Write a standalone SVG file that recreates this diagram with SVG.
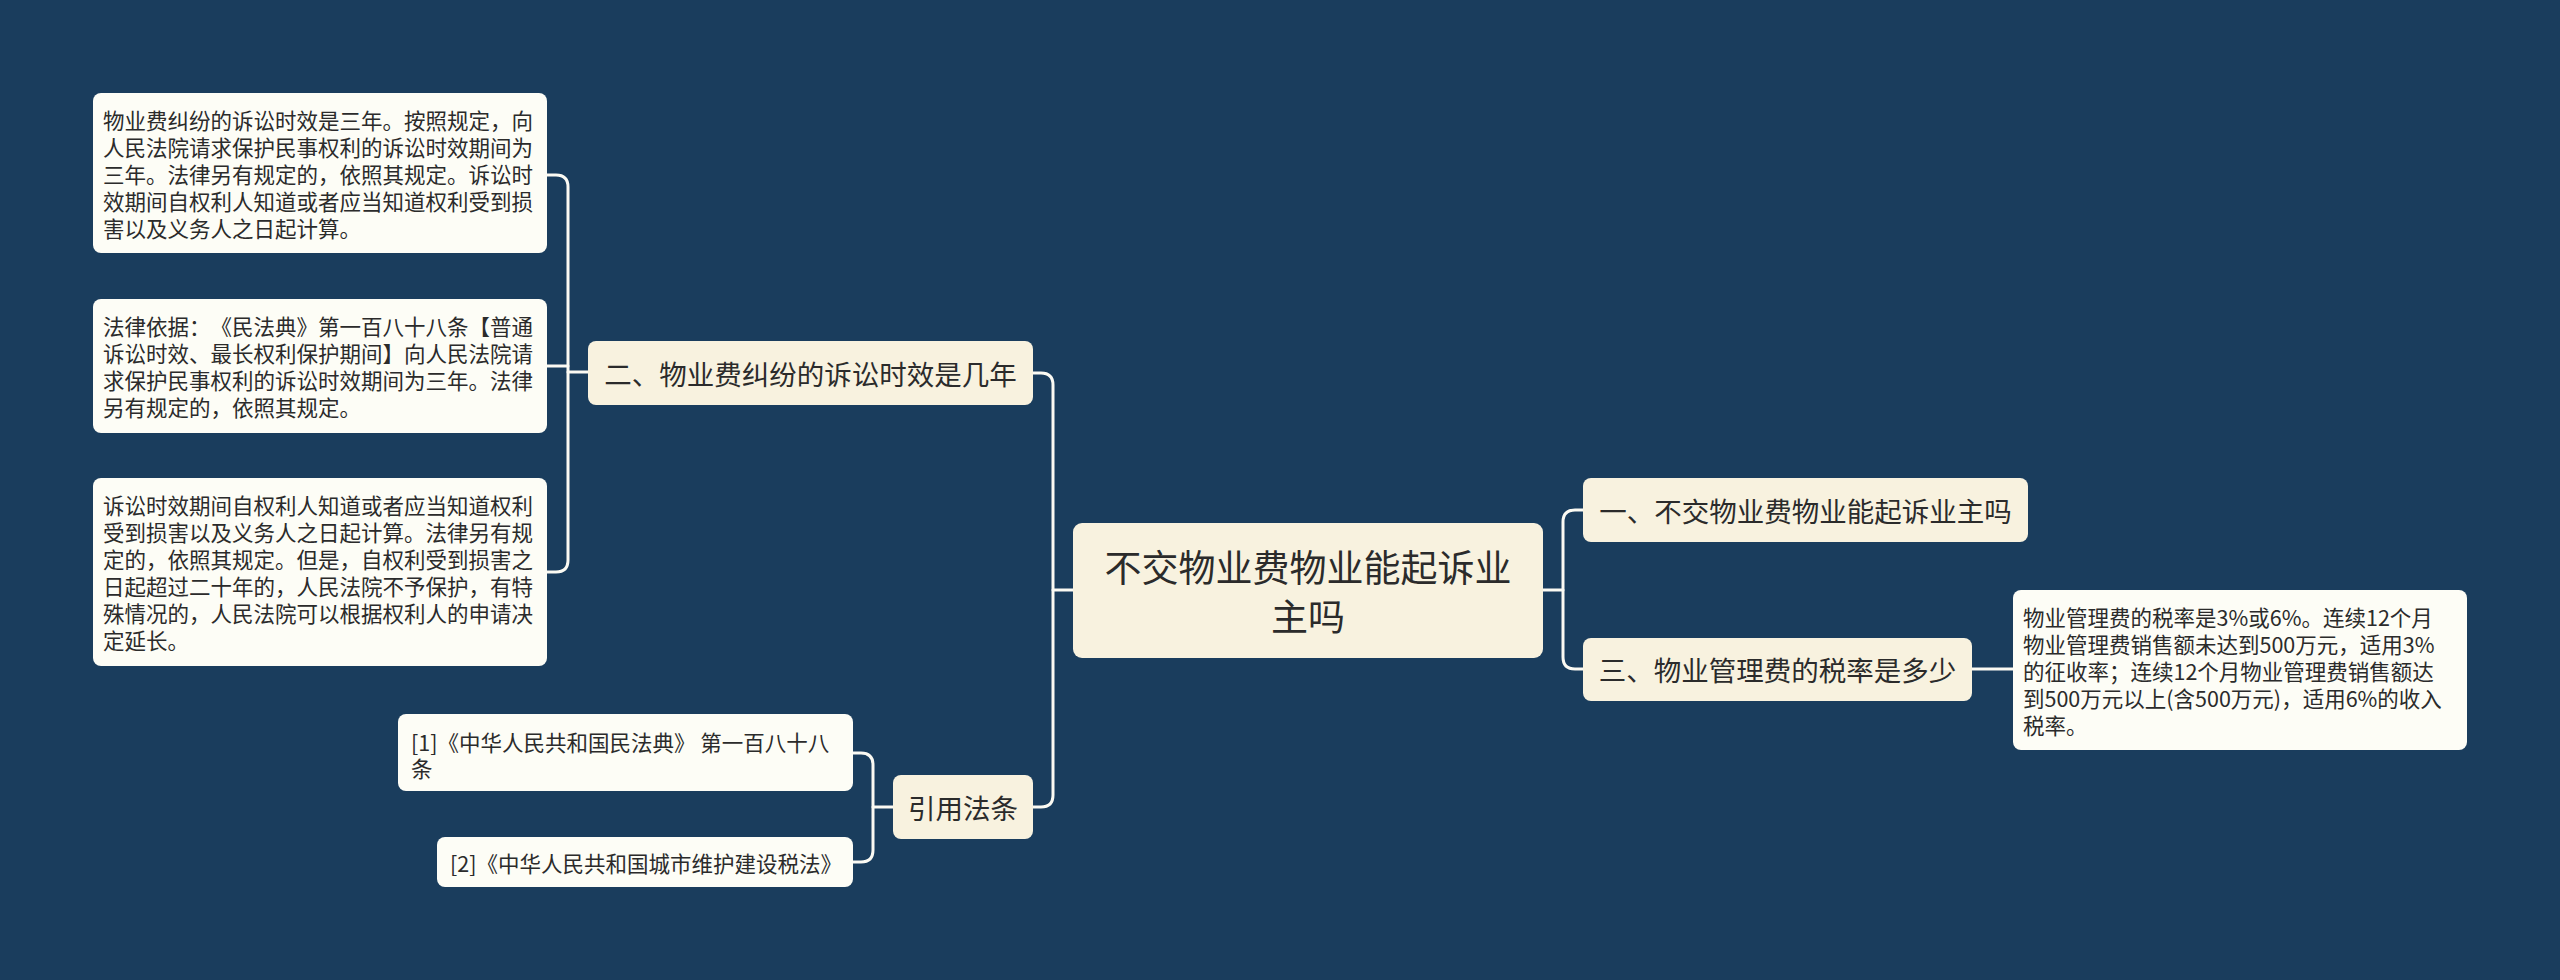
<svg xmlns="http://www.w3.org/2000/svg" width="2560" height="980" viewBox="0 0 2560 980">
<style>
.t{font-family:"Noto Sans CJK SC","Noto Sans",sans-serif;fill:#2b2b2b;dominant-baseline:central;text-spacing-trim:space-all}
.main{fill:#f8f2df}
.leaf{fill:#fdfdf6}
.c{fill:none;stroke:#fbfaf3;stroke-width:3;stroke-linecap:round;stroke-linejoin:round}
.s{font-size:21.5px}
.m{font-size:27.5px;text-anchor:middle}
.r{font-size:37px;text-anchor:middle}
</style>
<rect width="2560" height="980" fill="#1a3d5d"/>
<g id="connectors">
<path class="c" d="M1073,590 H1053"/>
<path class="c" d="M1033,373 H1041 Q1053,373 1053,385 V795 Q1053,807 1041,807 H1033"/>
<path class="c" d="M588,372 H568"/>
<path class="c" d="M547,175 H556 Q568,175 568,187 V560 Q568,572 556,572 H547"/>
<path class="c" d="M547,366 H568"/>
<path class="c" d="M1543,590 H1563"/>
<path class="c" d="M1583,510 H1575 Q1563,510 1563,522 V657 Q1563,669 1575,669 H1583"/>
<path class="c" d="M1972,669 H2013"/>
<path class="c" d="M893,807 H873"/>
<path class="c" d="M853,753 H861 Q873,753 873,765 V850 Q873,862 861,862 H853"/>
</g>
<g id="root">
<rect class="main" x="1073" y="523" width="470" height="135" rx="9"/>
<text class="t r" x="1308" y="566">不交物业费物业能起诉业</text>
<text class="t r" x="1308" y="615">主吗</text>
</g>
<g id="n2">
<rect class="main" x="588" y="341" width="445" height="64" rx="8"/>
<text class="t m" x="810.5" y="373">二、物业费纠纷的诉讼时效是几年</text>
</g>
<g id="n1">
<rect class="main" x="1583" y="478" width="445" height="64" rx="8"/>
<text class="t m" x="1805.5" y="510">一、不交物业费物业能起诉业主吗</text>
</g>
<g id="n3">
<rect class="main" x="1583" y="638" width="389" height="63" rx="8"/>
<text class="t m" x="1777.5" y="669">三、物业管理费的税率是多少</text>
</g>
<g id="nref">
<rect class="main" x="893" y="775" width="140" height="64" rx="8"/>
<text class="t m" x="963" y="807">引用法条</text>
</g>
<g id="leaf1">
<rect class="leaf" x="93" y="93" width="454" height="160" rx="8"/>
<text class="t s" x="103"><tspan x="103" y="119">物业费纠纷的诉讼时效是三年。按照规定，向</tspan><tspan x="103" y="146">人民法院请求保护民事权利的诉讼时效期间为</tspan><tspan x="103" y="173">三年。法律另有规定的，依照其规定。诉讼时</tspan><tspan x="103" y="200">效期间自权利人知道或者应当知道权利受到损</tspan><tspan x="103" y="227">害以及义务人之日起计算。</tspan></text>
</g>
<g id="leaf2">
<rect class="leaf" x="93" y="299" width="454" height="134" rx="8"/>
<text class="t s" x="103"><tspan x="103" y="325">法律依据：《民法典》第一百八十八条【普通</tspan><tspan x="103" y="352">诉讼时效、最长权利保护期间】向人民法院请</tspan><tspan x="103" y="379">求保护民事权利的诉讼时效期间为三年。法律</tspan><tspan x="103" y="406">另有规定的，依照其规定。</tspan></text>
</g>
<g id="leaf3">
<rect class="leaf" x="93" y="478" width="454" height="188" rx="8"/>
<text class="t s" x="103"><tspan x="103" y="504">诉讼时效期间自权利人知道或者应当知道权利</tspan><tspan x="103" y="531">受到损害以及义务人之日起计算。法律另有规</tspan><tspan x="103" y="558">定的，依照其规定。但是，自权利受到损害之</tspan><tspan x="103" y="585">日起超过二十年的，人民法院不予保护，有特</tspan><tspan x="103" y="612">殊情况的，人民法院可以根据权利人的申请决</tspan><tspan x="103" y="639">定延长。</tspan></text>
</g>
<g id="leaf4">
<rect class="leaf" x="2013" y="590" width="454" height="160" rx="8"/>
<text class="t s" x="2023"><tspan x="2023" y="616">物业管理费的税率是3%或6%。连续12个月</tspan><tspan x="2023" y="643">物业管理费销售额未达到500万元，适用3%</tspan><tspan x="2023" y="670">的征收率；连续12个月物业管理费销售额达</tspan><tspan x="2023" y="697">到500万元以上(含500万元)，适用6%的收入</tspan><tspan x="2023" y="724">税率。</tspan></text>
</g>
<g id="ref1">
<rect class="leaf" x="398" y="714" width="455" height="77" rx="8"/>
<text class="t s" x="411"><tspan x="411" y="741">[1]《中华人民共和国民法典》 第一百八十八</tspan><tspan x="411" y="767">条</tspan></text>
</g>
<g id="ref2">
<rect class="leaf" x="437" y="837" width="416" height="50" rx="8"/>
<text class="t s" x="450" y="862">[2]《中华人民共和国城市维护建设税法》</text>
</g>
</svg>
